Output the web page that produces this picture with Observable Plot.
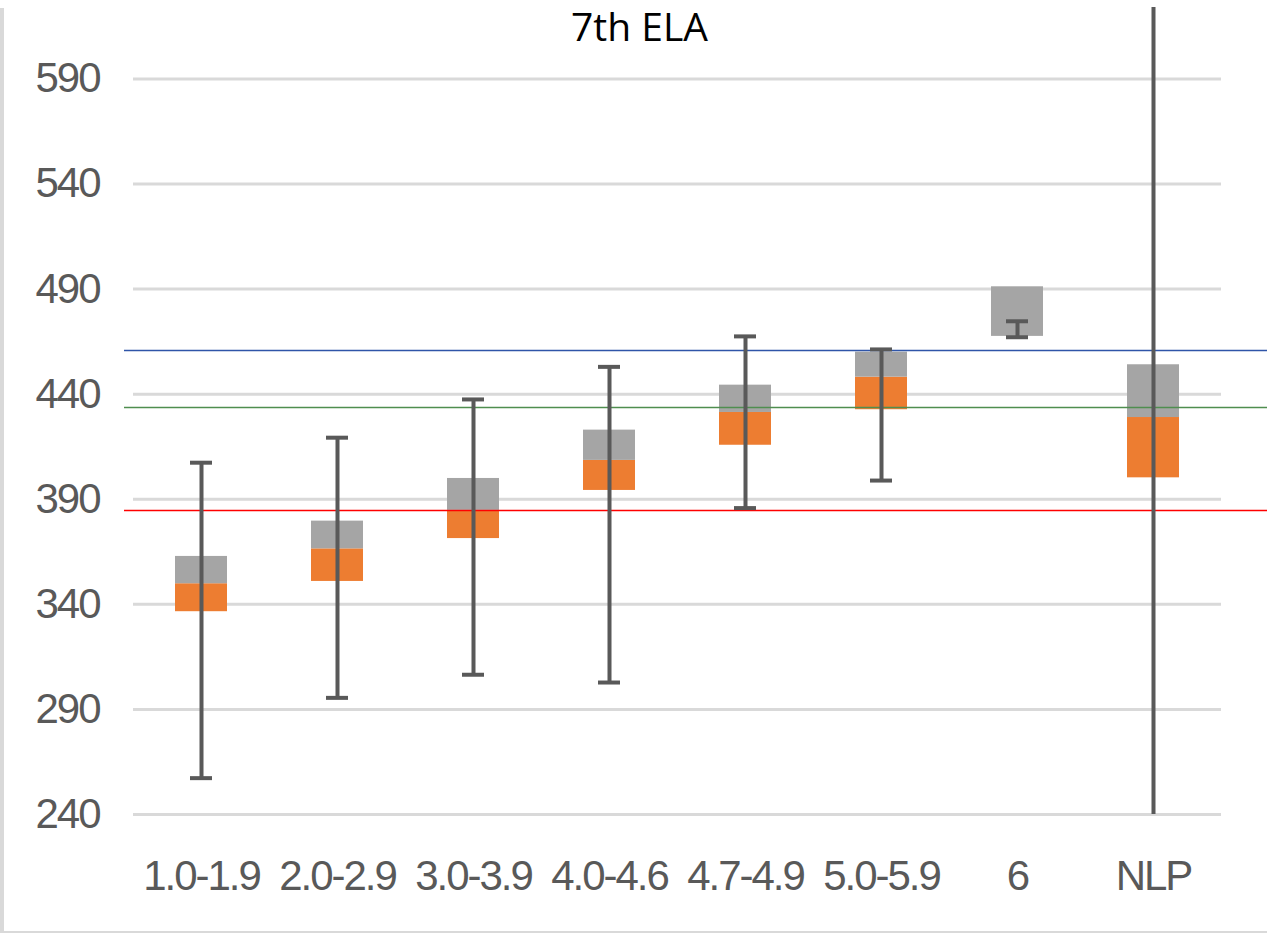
<!DOCTYPE html>
<html>
<head>
<meta charset="utf-8">
<script src="https://cdn.jsdelivr.net/npm/d3@7"></script>
<script src="https://cdn.jsdelivr.net/npm/@observablehq/plot@0.6"></script>
<style>
  html, body { margin: 0; padding: 0; background: #fff; }
  #wrap { position: relative; width: 1267px; height: 936px; overflow: hidden; background: #fff; }
  #frame { position: absolute; left: 0px; top: 8px; width: 1267px; height: 925px; border-left: 4px solid #d9d9d9; border-bottom: 2px solid #d9d9d9; box-sizing: border-box; }
  #title { position: absolute; top: 2px; left: 0; width: 1267px; padding-left: 12px; box-sizing: border-box; text-align: center; font-family: "Open Sans", "Liberation Sans", sans-serif; font-size: 39px; line-height: 48px; color: #000; }
  #chart { position: absolute; left: 0; top: 0; }
  #chart svg text { letter-spacing: -2px; }
</style>
</head>
<body>
<div id="wrap">
  <div id="frame"></div>
  <div id="chart"></div>
  <div id="title">7th ELA</div>
</div>
<script>
// Categories (x-axis tick labels)
const categories = ["1.0-1.9", "2.0-2.9", "3.0-3.9", "4.0-4.6", "4.7-4.9", "5.0-5.9", "6", "NLP"];
// Whisker minimum / maximum
const minValues = [257.3, 295.5, 306.5, 302.8, 385.8, 398.9, 467.1, 230];
const maxValues = [407.4, 419.3, 437.5, 453.0, 467.5, 461.3, 474.7, 640];
// Box: lower quartile, median, upper quartile
const q1Values = [336.5, 350.9, 371.3, 394.2, 415.7, 432.6, 467.5, 400.2];
const medianValues = [349.8, 366.4, 384.7, 408.5, 431.3, 448.1, 467.5, 428.9];
const q3Values = [362.8, 379.6, 399.9, 422.9, 444.3, 460.0, 491.1, 454.0];
// Horizontal reference lines
const refValues = [460.8, 433.7, 384.7];
const refColors = ["#2F55A8", "#4F8E4F", "#FF0000"];
// Y-axis ticks
const yTicks = [240, 290, 340, 390, 440, 490, 540, 590];

const rows = categories.map((c, i) => ({
  cat: c, min: minValues[i], max: maxValues[i],
  q1: q1Values[i], med: medianValues[i], q3: q3Values[i]
}));
const refs = refValues.map((v, i) => ({v, color: refColors[i]}));

const font = '"Liberation Sans", sans-serif';

const chart = Plot.plot({
  width: 1267,
  height: 936,
  marginLeft: 133,
  marginRight: 46,
  marginTop: 7,
  marginBottom: 122,
  style: {fontFamily: font, fontSize: "42px", background: "transparent", overflow: "visible"},
  x: {domain: categories, padding: 0, label: null},
  y: {domain: [240, 624], label: null},
  marks: [
    Plot.ruleY(yTicks, {stroke: "#d9d9d9", strokeWidth: 3}),
    Plot.barY(rows, {x: "cat", y1: "q1", y2: "med", fill: "#ED7D31", insetLeft: 42, insetRight: 42}),
    Plot.barY(rows, {x: "cat", y1: "med", y2: "q3", fill: "#A5A5A5", insetLeft: 42, insetRight: 42}),
    Plot.ruleY(refs, {y: "v", stroke: "color", strokeWidth: 1.5, insetLeft: -9, insetRight: -46}),
    Plot.ruleX(rows, {x: "cat", y1: "min", y2: "max", stroke: "#595959", strokeWidth: 4, clip: true}),
    Plot.tickY(rows, {x: "cat", y: "min", stroke: "#595959", strokeWidth: 4, insetLeft: 57, insetRight: 57, clip: true}),
    Plot.tickY(rows, {x: "cat", y: "max", stroke: "#595959", strokeWidth: 4, insetLeft: 57, insetRight: 57, clip: true}),
    Plot.axisY({ticks: yTicks, tickSize: 0, tickPadding: 34, color: "#595959", label: null, fontSize: 42}),
    Plot.axisX({tickSize: 0, tickPadding: 46, color: "#595959", label: null, fontSize: 42})
  ]
});
document.getElementById("chart").appendChild(chart);
</script>
</body>
</html>
